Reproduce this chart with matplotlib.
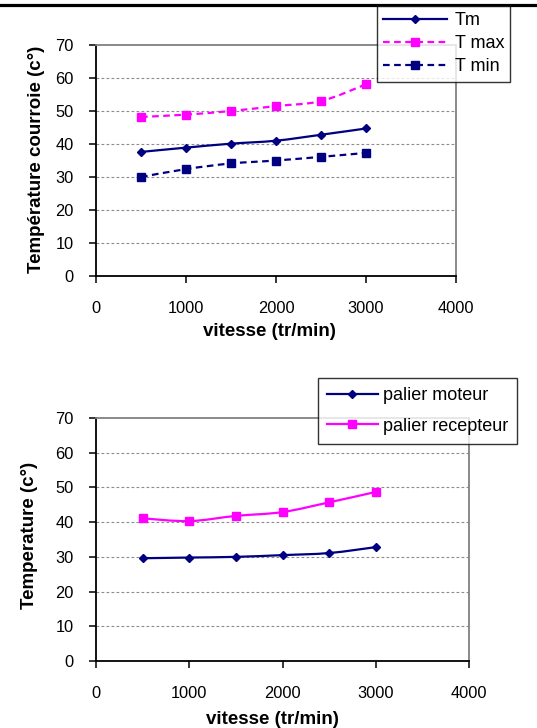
import matplotlib
matplotlib.use("Agg")
import matplotlib.pyplot as plt
from matplotlib.path import Path
from matplotlib.patches import PathPatch
from matplotlib.lines import Line2D
import numpy as np

plt.rcParams['font.family'] = ['Liberation Sans', 'DejaVu Sans']

# ---- data ----
vitesse = [500, 1000, 1500, 2000, 2500, 3000]
t_m = [37.6, 38.9, 40.1, 41.0, 42.8, 44.7]
t_max = [48.2, 48.9, 50.0, 51.5, 53.0, 58.1]
t_min = [30.0, 32.4, 34.1, 35.0, 36.1, 37.3]
palier_moteur = [29.6, 29.8, 30.0, 30.5, 31.1, 32.8]
palier_recepteur = [41.1, 40.3, 41.8, 42.9, 45.7, 48.7]

x_ticks = [0, 1000, 2000, 3000, 4000]
y_ticks = [0, 10, 20, 30, 40, 50, 60, 70]

NAVY = '#000080'
MAG = '#FF00FF'
FS = 11.8
FS_LAB = 13.5
FS_LEG = 13

W, H = 537, 728
fig = plt.figure(figsize=(W / 100, H / 100), dpi=100)


def px_rect(l, t, r, b):
    return [l / W, 1 - b / H, (r - l) / W, (b - t) / H]


def smooth_path(xs, ys):
    pts = np.column_stack([xs, ys]).astype(float)
    n = len(pts)
    verts = [pts[0]]
    codes = [Path.MOVETO]
    for i in range(n - 1):
        p0 = pts[i - 1] if i > 0 else pts[i]
        p1 = pts[i]
        p2 = pts[i + 1]
        p3 = pts[i + 2] if i + 2 < n else pts[i + 1]
        c1 = p1 + (p2 - p0) / 6.0
        c2 = p2 - (p3 - p1) / 6.0
        verts += [c1, c2, p2]
        codes += [Path.CURVE4] * 3
    return Path(verts, codes)


def series(ax, xs, ys, color, ls, marker, ms, label):
    patch = PathPatch(smooth_path(xs, ys), facecolor='none', edgecolor=color,
                      lw=1.6, linestyle=ls, zorder=3)
    ax.add_patch(patch)
    ax.plot(xs, ys, linestyle='none', marker=marker, ms=ms, color=color,
            mec=color, zorder=4)
    return Line2D([], [], color=color, lw=1.6, linestyle=ls, marker=marker,
                  ms=ms, mec=color, label=label)


def style_axes(ax, xmax):
    ax.set_xlim(0, xmax)
    ax.set_ylim(0, 70)
    ax.set_xticks(x_ticks)
    ax.set_yticks(y_ticks)
    ax.grid(False)
    for v in y_ticks[1:-1]:
        ax.axhline(v, color='#8c8c8c', lw=0.8, linestyle=(0, (2.5, 2)), zorder=1)
    ax.spines['left'].set_color('black')
    ax.spines['bottom'].set_color('black')
    ax.spines['top'].set_color('#808080')
    ax.spines['right'].set_color('#808080')
    for s in ax.spines.values():
        s.set_linewidth(1.3)
    ax.tick_params(axis='both', direction='out', length=5, width=1.1,
                   labelsize=FS, colors='black')
    ax.tick_params(axis='y', pad=11)
    ax.tick_params(axis='x', pad=13)


DASH = (0, (3, 2))

# ---- top chart ----
ax1 = fig.add_axes(px_rect(96, 45, 456, 276))
style_axes(ax1, 4000)
h1 = series(ax1, vitesse, t_m, NAVY, '-', 'D', 4.5, 'Tm')
h2 = series(ax1, vitesse, t_max, MAG, DASH, 's', 5.2, 'T max')
h3 = series(ax1, vitesse, t_min, NAVY, DASH, 's', 5.5, 'T min')
fig.text(37 / W, 1 - 159 / H, 'Température courroie (c°)', rotation=90,
         ha='center', va='center', fontsize=FS_LAB, fontweight='bold')
fig.text(269 / W, 1 - 332 / H, 'vitesse (tr/min)', ha='center', va='center',
         fontsize=FS_LAB, fontweight='bold')
leg1 = fig.legend(handles=[h1, h2, h3], loc='upper left',
                  bbox_to_anchor=(377 / W, 1 - 6 / H), fontsize=FS_LEG,
                  frameon=True, fancybox=False, edgecolor='black',
                  handlelength=3.5, handletextpad=0.45, borderpad=0.35,
                  labelspacing=0.33, borderaxespad=0)
leg1.get_frame().set_linewidth(1.0)

# ---- bottom chart ----
ax2 = fig.add_axes(px_rect(96, 418, 469, 661))
style_axes(ax2, 4000)
g1 = series(ax2, vitesse, palier_moteur, NAVY, '-', 'D', 4.5, 'palier moteur')
g2 = series(ax2, vitesse, palier_recepteur, MAG, '-', 's', 6, 'palier recepteur')
fig.text(30 / W, 1 - 535 / H, 'Temperature (c°)', rotation=90,
         ha='center', va='center', fontsize=FS_LAB, fontweight='bold')
fig.text(272 / W, 1 - 720 / H, 'vitesse (tr/min)', ha='center', va='center',
         fontsize=FS_LAB, fontweight='bold')
leg2 = fig.legend(handles=[g1, g2], loc='upper left',
                  bbox_to_anchor=(318 / W, 1 - 378 / H), fontsize=FS_LEG,
                  frameon=True, fancybox=False, edgecolor='black',
                  handlelength=2.8, handletextpad=0.3, borderpad=0.5,
                  labelspacing=0.75, borderaxespad=0)
leg2.get_frame().set_linewidth(1.0)

# top rule line
fig.add_artist(Line2D([0, 1], [1 - 4.5 / H, 1 - 4.5 / H],
                      transform=fig.transFigure, color='black', lw=2.3))

fig.savefig('out.png', dpi=100)
